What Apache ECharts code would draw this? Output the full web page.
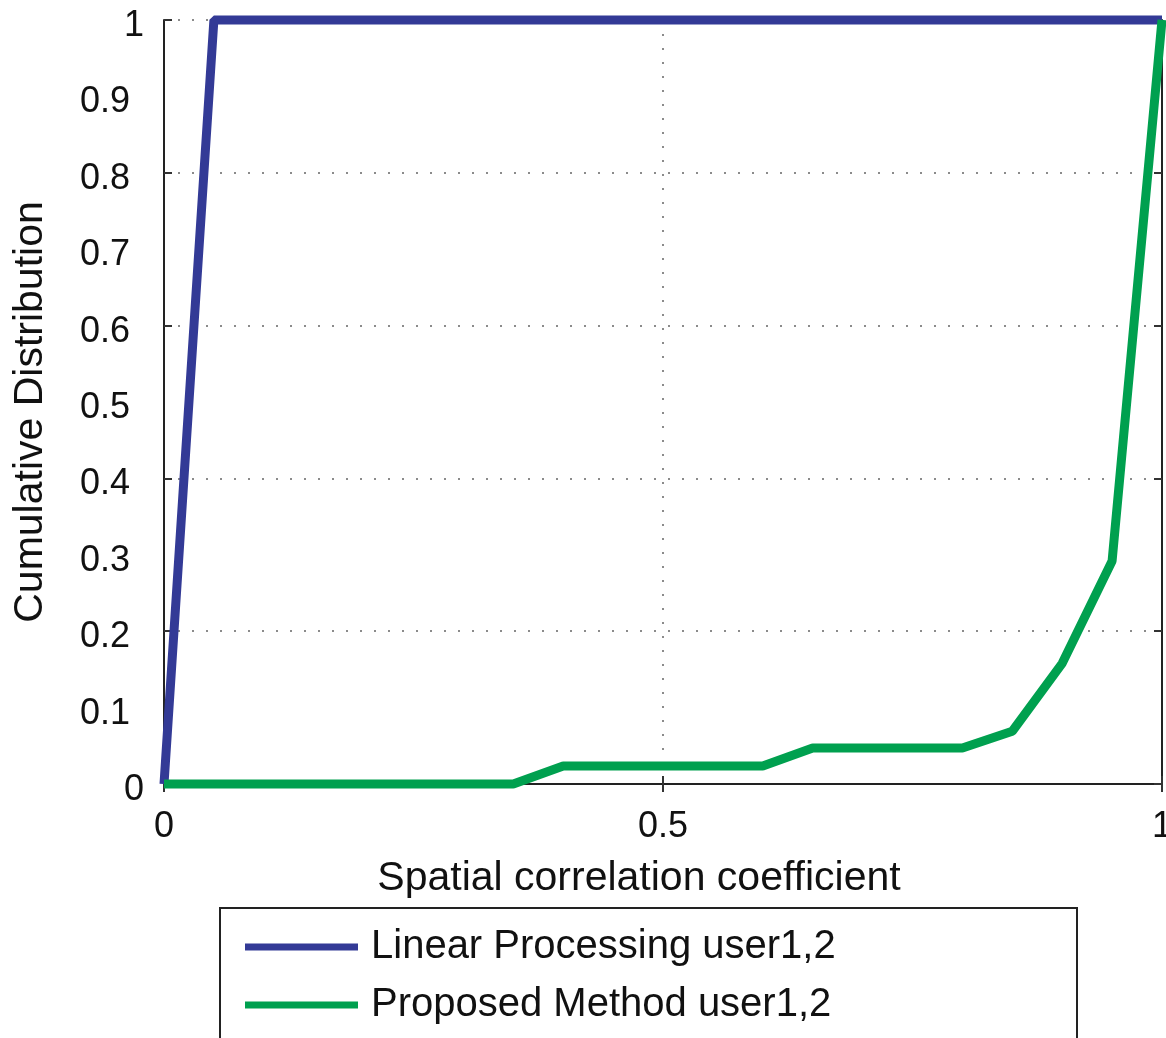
<!DOCTYPE html>
<html><head><meta charset="utf-8">
<script src="https://cdn.jsdelivr.net/npm/echarts@6/dist/echarts.min.js"></script>
<style>html,body{margin:0;padding:0;background:#fff}#c{width:1166px;height:1038px}</style>
</head><body><div id="c"></div>
<script>
var xValues = [0, 0.05, 0.10, 0.15, 0.20, 0.25, 0.30, 0.35, 0.40, 0.45, 0.50, 0.55, 0.60, 0.65, 0.70, 0.75, 0.80, 0.85, 0.90, 0.95, 1.00];
var linearProcessing = [0, 1, 1, 1, 1, 1, 1, 1, 1, 1, 1, 1, 1, 1, 1, 1, 1, 1, 1, 1, 1];
var proposedMethod = [0, 0, 0, 0, 0, 0, 0, 0, 0.0235, 0.0235, 0.0235, 0.0235, 0.0235, 0.047, 0.047, 0.047, 0.047, 0.069, 0.158, 0.292, 1];
var seriesNames = ['Linear Processing user1,2', 'Proposed Method user1,2'];
var xTitle = 'Spatial correlation coefficient';
var yTitle = 'Cumulative Distribution';

function pairs(xs, ys){ return xs.map(function(x,i){ return [x, ys[i]]; }); }
var FONT = '"Liberation Sans", Arial, sans-serif';
var chart = echarts.init(document.getElementById('c'));
var dotted = {show:true, lineStyle:{color:'#666', type:[2,12], width:1.5}};
var lblBase = {fontFamily:FONT, fontSize:36, color:'#111'};
chart.setOption({
  animation:false,
  backgroundColor:'#fff',
  grid:{left:164, right:4, top:20, bottom:254, outerBoundsMode:'none', containLabel:false},
  graphic:[{type:'rect', shape:{x:220, y:908, width:857, height:200}, style:{fill:'none', stroke:'#222', lineWidth:2}, z:1}],
  legend:{
    left:245, top:927, orient:'vertical', itemGap:18, itemWidth:113, itemHeight:7, icon:'rect', padding:0,
    data:seriesNames,
    textStyle:{fontFamily:FONT, fontSize:40, lineHeight:40, color:'#111', padding:[0,0,0,8]}
  },
  xAxis:[{
    type:'value', min:0, max:1, interval:0.5, position:'bottom',
    name:xTitle, nameLocation:'middle', nameGap:74,
    nameTextStyle:{fontFamily:FONT, fontSize:41, color:'#111', padding:[0,48,0,0]},
    axisLine:{show:true, lineStyle:{color:'#222', width:2}},
    axisTick:{show:true, inside:true, length:8, lineStyle:{color:'#333', width:2}},
    axisLabel:{fontFamily:FONT, fontSize:36, color:'#111', margin:25},
    splitLine:dotted
  },{
    type:'value', min:0, max:1, interval:0.5, position:'top',
    axisLine:{show:true, lineStyle:{color:'#222', width:2}},
    axisTick:{show:true, inside:true, length:8, lineStyle:{color:'#333', width:2}},
    axisLabel:{show:false}, splitLine:{show:false}
  }],
  yAxis:[{
    type:'value', min:0, max:1, interval:0.1, position:'left',
    name:yTitle, nameLocation:'middle', nameGap:113,
    nameTextStyle:{fontFamily:FONT, fontSize:41, color:'#111', padding:[0,20,0,0]},
    axisLine:{show:true, lineStyle:{color:'#222', width:2}},
    axisTick:{show:false},
    axisLabel:{
      fontFamily:FONT, fontSize:36, color:'#111', margin:20,
      formatter:function(v){
        var s = String(Math.round(v*10)/10);
        return (s.indexOf('.') >= 0 ? '{d|' : '{i|') + s + '}';
      },
      rich:{
        d:Object.assign({padding:[12,14,0,0]}, lblBase),
        i:Object.assign({padding:[12,0,0,0]}, lblBase)
      }
    },
    splitLine:{show:false}
  },{
    type:'value', min:0, max:1, interval:0.2, position:'left',
    axisLine:{show:false},
    axisTick:{show:true, inside:true, length:8, lineStyle:{color:'#333', width:2}},
    axisLabel:{show:false},
    splitLine:dotted
  },{
    type:'value', min:0, max:1, interval:0.2, position:'right',
    axisLine:{show:true, lineStyle:{color:'#222', width:2}},
    axisTick:{show:true, inside:true, length:8, lineStyle:{color:'#333', width:2}},
    axisLabel:{show:false}, splitLine:{show:false}
  }],
  series:[{
    name:seriesNames[0], type:'line', data:pairs(xValues, linearProcessing), showSymbol:false, clip:false, z:5,
    lineStyle:{color:'#333A96', width:9}, itemStyle:{color:'#333A96'}
  },{
    name:seriesNames[1], type:'line', data:pairs(xValues, proposedMethod), showSymbol:false, clip:false, z:6,
    lineStyle:{color:'#00A04F', width:9}, itemStyle:{color:'#00A04F'}
  }]
});
</script></body></html>
